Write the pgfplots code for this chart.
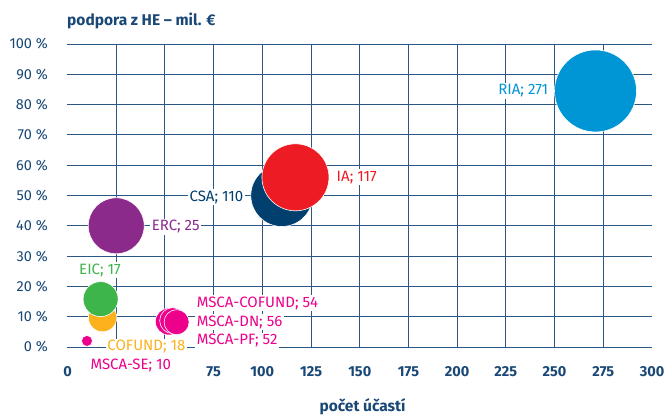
\documentclass[border=0pt]{standalone}
\usepackage{fontspec}
\setmainfont{Fira Sans}
\usepackage{pgfplots}
\pgfplotsset{compat=1.18}
\definecolor{gridc}{HTML}{2A5783}
\definecolor{txt}{HTML}{1A4876}
\definecolor{cRIA}{HTML}{0096D6}
\definecolor{cIA}{HTML}{ED1C24}
\definecolor{cCSA}{HTML}{003F6E}
\definecolor{cERC}{HTML}{8C2A8C}
\definecolor{cEIC}{HTML}{3DB54A}
\definecolor{cCOF}{HTML}{FBB21D}
\definecolor{cMSCA}{HTML}{EC008C}
\begin{document}
\begin{tikzpicture}
\begin{axis}[
  at={(0,0)}, anchor=south west,
  scale only axis, width=584.5bp, height=303bp,
  xmin=0, xmax=300, ymin=0, ymax=100,
  clip=false,
  axis line style={draw=none},
  tick style={draw=none},
  major tick length=0pt,
  xtick={0,25,...,300},
  xticklabels={0,,,75,100,125,150,175,200,225,250,275,300},
  ytick={0,10,...,100},
  ymajorgrids=true,
  extra x ticks={25,50,...,275},
  extra x tick labels={},
  extra x tick style={xmajorgrids=true},
  grid style={draw=gridc, line width=0.9bp},
  /pgf/number format/assume math mode=true,
  yticklabel={\pgfmathprintnumber{\tick}~\%},
  x tick label style={font=\fontsize{14.5bp}{16bp}\selectfont\bfseries, text=txt, anchor=north, inner sep=0pt, yshift=-19.5bp},
  y tick label style={font=\fontsize{14.5bp}{16bp}\selectfont, text=txt, anchor=east, inner sep=0pt, xshift=-19.5bp},
]
% bubbles
\addplot[only marks, mark=*, mark size=41bp, mark options={fill=cRIA, draw=white, line width=0.6bp}] coordinates {(271,84.5)};
\addplot[only marks, mark=*, mark size=31bp, mark options={fill=cCSA, draw=white, line width=0.6bp}] coordinates {(110,50)};
\addplot[only marks, mark=*, mark size=33.5bp, mark options={fill=cIA, draw=white, line width=0.6bp}] coordinates {(117,56)};
\addplot[only marks, mark=*, mark size=28bp, mark options={fill=cERC, draw=white, line width=0.6bp}] coordinates {(25,40)};
\addplot[only marks, mark=*, mark size=14.2bp, mark options={fill=cCOF, draw=white, line width=0.6bp}] coordinates {(18,9.7)};
\addplot[only marks, mark=*, mark size=17.5bp, mark options={fill=cEIC, draw=white, line width=0.6bp}] coordinates {(17,15.8)};
\addplot[only marks, mark=*, mark size=5.5bp, mark options={fill=cMSCA, draw=white, line width=0.6bp}] coordinates {(10,2)};
\addplot[only marks, mark=*, mark size=13.5bp, mark options={fill=cMSCA, draw=white, line width=0.6bp}] coordinates {(52,8.4)};
\addplot[only marks, mark=*, mark size=13bp, mark options={fill=cMSCA, draw=white, line width=0.6bp}] coordinates {(54,8.7)};
\addplot[only marks, mark=*, mark size=12.5bp, mark options={fill=cMSCA, draw=white, line width=0.6bp}] coordinates {(56,8.2)};
% labels
\tikzset{lab/.style={fill=white, inner sep=1.5bp, font=\fontsize{15bp}{17bp}\selectfont}}
\node[lab, anchor=east, text=cRIA] at (axis cs:247.6,84.5) {RIA; 271};
\node[lab, anchor=west, text=cIA] at (axis cs:137.3,56) {IA; 117};
\node[lab, anchor=east, text=cCSA] at (axis cs:91.1,49.5) {CSA; 110};
\node[lab, anchor=west, text=cERC] at (axis cs:42.4,39.7) {ERC; 25};
\node[lab, anchor=center, text=cEIC] at (axis cs:16.7,25.4) {EIC; 17};
\node[lab, anchor=center, text=cCOF] at (axis cs:40.5,0.1) {COFUND; 18};
\node[lab, anchor=center, text=cMSCA] at (axis cs:32.5,-6.2) {MSCA-SE; 10};
\node[lab, anchor=west, text=cMSCA] at (axis cs:65.5,14.4) {MSCA-COFUND; 54};
\node[lab, anchor=west, text=cMSCA] at (axis cs:65.5,8.15) {MSCA-DN; 56};
\node[lab, anchor=west, text=cMSCA] at (axis cs:65.5,2.0) {MSCA-PF; 52};
\end{axis}
\node[anchor=base west, inner sep=0pt, text=txt, font=\fontsize{15.5bp}{18bp}\selectfont\bfseries] at (-0.5bp,321bp) {podpora z HE – mil. €};
\node[anchor=base, inner sep=0pt, text=txt, font=\fontsize{15.5bp}{18bp}\selectfont\bfseries] at (295bp,-64.7bp) {počet účastí};
\pgfresetboundingbox
\path[use as bounding box] (-67.5bp,-68bp) rectangle (600.5bp,347bp);
\end{tikzpicture}
\end{document}
